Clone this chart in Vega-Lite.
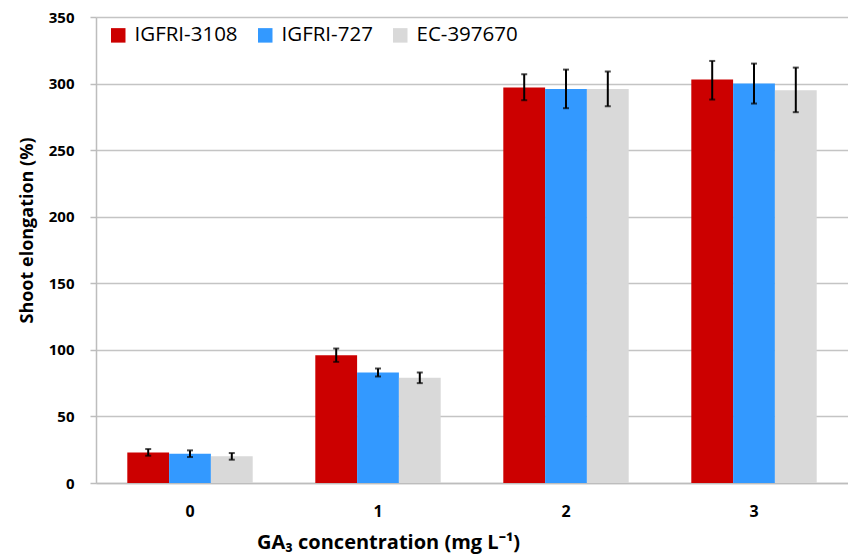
{
  "$schema": "https://vega.github.io/schema/vega-lite/v6.json",
  "width": 752,
  "height": 466,
  "autosize": {"type": "none"},
  "padding": {"left": 96, "top": 17, "right": 0, "bottom": 74},
  "background": "white",
  "config": {
    "view": {"stroke": null},
    "font": "Open Sans"
  },
  "data": {
    "values": [
      {"conc": "0", "cultivar": "IGFRI-3108", "value": 23, "lo": 20.5, "hi": 25.5},
      {"conc": "0", "cultivar": "IGFRI-727", "value": 22, "lo": 19.5, "hi": 24.5},
      {"conc": "0", "cultivar": "EC-397670", "value": 20, "lo": 17.5, "hi": 22.5},
      {"conc": "1", "cultivar": "IGFRI-3108", "value": 96, "lo": 91, "hi": 101},
      {"conc": "1", "cultivar": "IGFRI-727", "value": 83, "lo": 80, "hi": 86},
      {"conc": "1", "cultivar": "EC-397670", "value": 79, "lo": 75, "hi": 83},
      {"conc": "2", "cultivar": "IGFRI-3108", "value": 297, "lo": 287.5, "hi": 307},
      {"conc": "2", "cultivar": "IGFRI-727", "value": 296, "lo": 281.5, "hi": 310.5},
      {"conc": "2", "cultivar": "EC-397670", "value": 296, "lo": 283, "hi": 309},
      {"conc": "3", "cultivar": "IGFRI-3108", "value": 303, "lo": 288, "hi": 317},
      {"conc": "3", "cultivar": "IGFRI-727", "value": 300, "lo": 285, "hi": 315},
      {"conc": "3", "cultivar": "EC-397670", "value": 295, "lo": 278.5, "hi": 312}
    ]
  },
  "encoding": {
    "x": {
      "field": "conc",
      "type": "nominal",
      "scale": {"paddingInner": 0.333, "paddingOuter": 0.1665},
      "axis": {
        "title": "GA₃ concentration (mg L⁻¹)",
        "labelAngle": 0,
        "labelFontWeight": "bold",
        "labelFontSize": 16,
        "labelColor": "#000000",
        "labelPadding": 20,
        "ticks": false,
        "domainColor": "#BDBDBD",
        "domainWidth": 1.5,
        "titleFontSize": 20,
        "titleFontWeight": "bold",
        "titleColor": "#000000",
        "titlePadding": 13,
        "titleX": 292,
        "titleAlign": "center"
      }
    },
    "xOffset": {
      "field": "cultivar",
      "type": "nominal",
      "sort": ["IGFRI-3108", "IGFRI-727", "EC-397670"],
      "scale": {"paddingInner": 0, "paddingOuter": 0}
    }
  },
  "layer": [
    {
      "mark": {"type": "bar"},
      "encoding": {
        "y": {
          "field": "value",
          "type": "quantitative",
          "scale": {"domain": [0, 350]},
          "axis": {
            "title": "Shoot elongation (%)",
            "values": [0, 50, 100, 150, 200, 250, 300, 350],
            "grid": true,
            "gridColor": "#C4C4C4",
            "gridWidth": 1.5,
            "domainColor": "#BDBDBD",
            "domainWidth": 1.5,
            "tickColor": "#BDBDBD",
            "tickWidth": 1.5,
            "tickSize": 6,
            "labelPadding": 16,
            "labelFontWeight": "bold",
            "labelFontSize": 15,
            "labelColor": "#000000",
            "titleFontSize": 18,
            "titleFontWeight": "bold",
            "titleColor": "#000000",
            "titlePadding": 12,
            "titleY": 213
          }
        },
        "color": {
          "field": "cultivar",
          "type": "nominal",
          "sort": ["IGFRI-3108", "IGFRI-727", "EC-397670"],
          "scale": {
            "domain": ["IGFRI-3108", "IGFRI-727", "EC-397670"],
            "range": ["#CC0000", "#3399FF", "#D9D9D9"]
          },
          "legend": {
            "title": null,
            "orient": "none",
            "legendX": 12,
            "legendY": 8,
            "direction": "horizontal",
            "symbolType": "square",
            "symbolSize": 210,
            "symbolStrokeWidth": 0,
            "labelFontSize": 20.5,
            "labelColor": "#000000",
            "labelOffset": 6,
            "columnPadding": 17
          }
        }
      }
    },
    {
      "mark": {"type": "rule", "color": "#000000", "strokeWidth": 2},
      "encoding": {
        "y": {"field": "lo", "type": "quantitative"},
        "y2": {"field": "hi"}
      }
    },
    {
      "mark": {"type": "tick", "color": "#000000", "thickness": 2, "size": 6},
      "encoding": {
        "y": {"field": "lo", "type": "quantitative"}
      }
    },
    {
      "mark": {"type": "tick", "color": "#000000", "thickness": 2, "size": 6},
      "encoding": {
        "y": {"field": "hi", "type": "quantitative"}
      }
    }
  ]
}
